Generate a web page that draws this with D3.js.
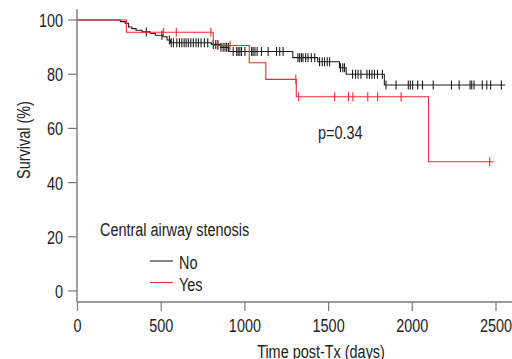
<!DOCTYPE html>
<html>
<head>
<meta charset="utf-8">
<script src="https://cdn.jsdelivr.net/npm/d3@7"></script>
<style>
    body { margin: 0; background: #fff; }
    svg { display: block; font-family: "Liberation Sans", Arial, sans-serif; }
</style>
</head>
<body>
<svg id="chart" width="512" height="359"></svg>
<script>

// ##################################################
// #  Data                                          #
// ##################################################

const groups = ['No', 'Yes'];
const xTicks = [0, 500, 1000, 1500, 2000, 2500];
const yTicks = [0, 20, 40, 60, 80, 100];

// step times (days) and survival (%) after each step
const noEventTimes = [256, 285, 305, 325, 350, 385, 435, 465, 510, 535, 555, 800, 855, 905, 1286, 1435, 1565, 1605, 1833];
const noSurvival   = [99.4, 98.8, 97.4, 96.8, 96.2, 95.6, 95.0, 94.4, 93.8, 92.6, 91.6, 91.0, 89.9, 88.4, 86.1, 84.6, 82.4, 80.0, 76.0];
const noCensorTimes = [411, 504, 549, 560, 573, 593, 609, 623, 637, 649, 662, 677, 692, 708, 722,
    738, 758, 778, 811, 826, 838, 857, 870, 881, 891, 901, 930, 951, 960, 970, 980, 1000,
    1040, 1049, 1060, 1073, 1099, 1139, 1189, 1208, 1228,
    1317, 1327, 1338, 1347, 1363, 1377, 1397, 1417,
    1446, 1462, 1476, 1492, 1506, 1571, 1585, 1595,
    1643, 1661, 1676, 1693, 1729, 1744, 1759, 1774, 1792, 1821,
    1843, 1903, 1976, 1988, 2002, 2032, 2061, 2125, 2234, 2280, 2345, 2355, 2369, 2418, 2445, 2468, 2532];
const noEndTime = 2555;

const yesEventTimes = [292, 811, 1026, 1125, 1307, 2097];
const yesSurvival   = [95.5, 90.6, 84.2, 78.1, 71.7, 47.7];
const yesCensorTimes = [513, 590, 797, 839, 911, 1304, 1321, 1536, 1619, 1645, 1734, 1793, 1933, 2462];
const yesEndTime = 2485;

const pValue = 'p=0.34';

// ##################################################
// #  Chart                                         #
// ##################################################

const colors = { No: '#1e1e1e', Yes: '#ec2b33' };
const axisColor = '#7a7a7a';
const textColor = '#222';
const fontSize = 19;
const squeeze = 0.76; // condensed look

const svg = d3.select('#chart');

const x = d3.scaleLinear().domain([0, 2500]).range([77.5, 496]);
const y = d3.scaleLinear().domain([0, 100]).range([291, 20]);

const series = [
    { name: 'No', times: noEventTimes, surv: noSurvival, censors: noCensorTimes, end: noEndTime },
    { name: 'Yes', times: yesEventTimes, surv: yesSurvival, censors: yesCensorTimes, end: yesEndTime }
];

function survivalAt(s, t) {
    let v = 100;
    s.times.forEach((et, i) => { if (et <= t) v = s.surv[i]; });
    return v;
}

function stepPoints(s) {
    let pts = [[0, 100]];
    s.times.forEach((t, i) => pts.push([t, s.surv[i]]));
    pts.push([s.end, s.surv[s.surv.length - 1]]);
    return pts;
}

// condensed text: group placed at (px, py), glyphs squeezed horizontally
function label(parent, px, py, txt, anchor, rotate) {
    let g = parent.append('g')
        .attr('transform', `translate(${px},${py})` + (rotate ? ` rotate(${rotate})` : ''));
    g.append('text')
        .attr('transform', `scale(${squeeze},1)`)
        .attr('text-anchor', anchor || 'start')
        .attr('font-size', fontSize)
        .attr('fill', textColor)
        .text(txt);
    return g;
}

// axes
let yAxis = svg.append('g')
    .attr('transform', 'translate(77,0)');
yAxis.append('line')
    .attr('x1', 0).attr('x2', 0)
    .attr('y1', y(104)).attr('y2', 302)
    .attr('stroke', axisColor).attr('stroke-width', 1.4);
yAxis.selectAll('.tick')
    .data(yTicks)
    .enter()
    .append('line')
    .attr('x1', -9).attr('x2', 0)
    .attr('y1', d => y(d)).attr('y2', d => y(d))
    .attr('stroke', axisColor).attr('stroke-width', 1.2);
yTicks.forEach(d => label(yAxis, -14, y(d) + 7, d, 'end'));

let xAxis = svg.append('g')
    .attr('transform', 'translate(0,302)');
xAxis.append('line')
    .attr('x1', 77).attr('x2', 512)
    .attr('y1', 0).attr('y2', 0)
    .attr('stroke', axisColor).attr('stroke-width', 1.4);
xAxis.selectAll('.tick')
    .data(xTicks)
    .enter()
    .append('line')
    .attr('x1', d => x(d)).attr('x2', d => x(d))
    .attr('y1', 0).attr('y2', 9)
    .attr('stroke', axisColor).attr('stroke-width', 1.2);
xTicks.forEach(d => label(xAxis, x(d), 30, d, 'middle'));

label(svg, 321, 358, 'Time post-Tx (days)', 'middle');
label(svg, 30, 140, 'Survival (%)', 'middle', -90);

// curves
const line = d3.line()
    .x(d => x(d[0]))
    .y(d => y(d[1]))
    .curve(d3.curveStepAfter);

let curveGroup = svg.selectAll('.curve')
    .data(series)
    .enter()
    .append('g')
    .attr('class', 'curve');

curveGroup.append('path')
    .attr('d', d => line(stepPoints(d)))
    .attr('fill', 'none')
    .attr('stroke', d => colors[d.name])
    .attr('stroke-width', 1.1);

curveGroup.selectAll('.censor')
    .data(d => d.censors.map(t => ({ t, v: survivalAt(d, t), name: d.name })))
    .enter()
    .append('line')
    .attr('class', 'censor')
    .attr('x1', d => x(d.t)).attr('x2', d => x(d.t))
    .attr('y1', d => y(d.v) - 4.5).attr('y2', d => y(d.v) + 4.5)
    .attr('stroke', d => colors[d.name])
    .attr('stroke-width', 1.1);

// p value
label(svg, 318, 139, pValue);

// legend
let legend = svg.append('g');
label(legend, 100, 236, 'Central airway stenosis');

let legendItem = legend.selectAll('.item')
    .data(groups)
    .enter()
    .append('g')
    .attr('class', 'item')
    .attr('transform', (d, i) => `translate(0,${261 + i * 21.5})`);
legendItem.append('line')
    .attr('x1', 150).attr('x2', 173)
    .attr('y1', 0).attr('y2', 0)
    .attr('stroke', d => colors[d])
    .attr('stroke-width', 1.1);
legendItem.each(function (d) {
    label(d3.select(this), 179, 8, d);
});

</script>
</body>
</html>
